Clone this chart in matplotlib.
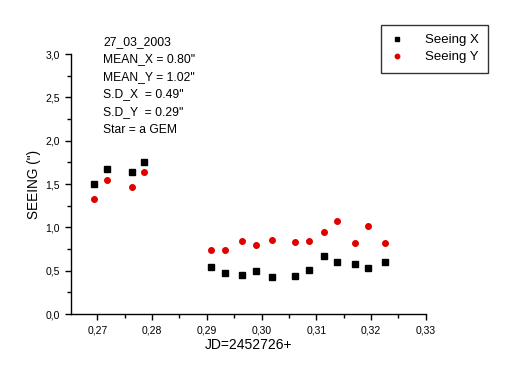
import matplotlib
matplotlib.use("Agg")
import matplotlib.pyplot as plt
from matplotlib.ticker import MultipleLocator, FuncFormatter

plt.rcParams['font.family'] = ['Liberation Sans', 'DejaVu Sans']

jd = [0.26945, 0.27177, 0.2764, 0.2786,
      0.2907, 0.2934, 0.2965, 0.2990, 0.3019, 0.3062, 0.3086, 0.3114,
      0.3137, 0.3170, 0.3195, 0.3225]
seeing_x = [1.498, 1.671, 1.636, 1.752,
            0.539, 0.470, 0.447, 0.500, 0.431, 0.435, 0.512, 0.666,
            0.597, 0.574, 0.528, 0.597]
seeing_y = [1.328, 1.544, 1.463, 1.640,
            0.736, 0.736, 0.846, 0.793, 0.858, 0.835, 0.846, 0.950,
            1.070, 0.823, 1.016, 0.823]

info_lines = ['27_03_2003', 'MEAN_X = 0.80"', 'MEAN_Y = 1.02"',
              'S.D_X  = 0.49"', 'S.D_Y  = 0.29"', 'Star = a GEM']

fig = plt.figure(figsize=(5.13, 3.82), dpi=100)
ax = fig.add_axes([0.1384, 0.178, 0.830 - 0.1384, 0.8586 - 0.178])

ax.plot(jd, seeing_x, linestyle='none', marker='s', color='black',
        markersize=3.8, label='Seeing X')
ax.plot(jd, seeing_y, linestyle='none', marker='o', color='#e00000',
        markersize=4.0, label='Seeing Y')

ax.set_xlim(0.2652, 0.33)
ax.set_ylim(0.0, 3.0)
ax.xaxis.set_major_locator(MultipleLocator(0.01))
ax.xaxis.set_minor_locator(MultipleLocator(0.005))
ax.yaxis.set_major_locator(MultipleLocator(0.5))
ax.yaxis.set_minor_locator(MultipleLocator(0.25))
ax.xaxis.set_major_formatter(FuncFormatter(lambda v, p: f"{v:.2f}".replace('.', ',')))
ax.yaxis.set_major_formatter(FuncFormatter(lambda v, p: f"{v:.1f}".replace('.', ',')))

for s in ['top', 'right']:
    ax.spines[s].set_visible(False)
for s in ['left', 'bottom']:
    ax.spines[s].set_linewidth(1.0)

ax.tick_params(axis='both', which='major', direction='out', length=4, width=1,
               labelsize=7.5, pad=4)
ax.tick_params(axis='both', which='minor', direction='out', length=3, width=1)

ax.set_xlabel('JD=2452726+', fontsize=10, labelpad=2)
ax.set_ylabel('SEEING (")', fontsize=9.8, labelpad=3)

for i, line in enumerate(info_lines):
    fig.text(103 / 513, 1 - (42 + i * 17.5) / 382, line, fontsize=8.7,
             ha='left', va='center')

leg = ax.legend(loc='upper left', bbox_to_anchor=(381 / 513, 1 - 25 / 382),
                bbox_transform=fig.transFigure, fontsize=9.5, frameon=True,
                fancybox=False, edgecolor='black', borderpad=0.7,
                handletextpad=1.6, labelspacing=0.35, handlelength=1.0,
                markerscale=0.8, borderaxespad=0)
leg.get_frame().set_linewidth(1.0)

fig.savefig('out.png', dpi=100)
